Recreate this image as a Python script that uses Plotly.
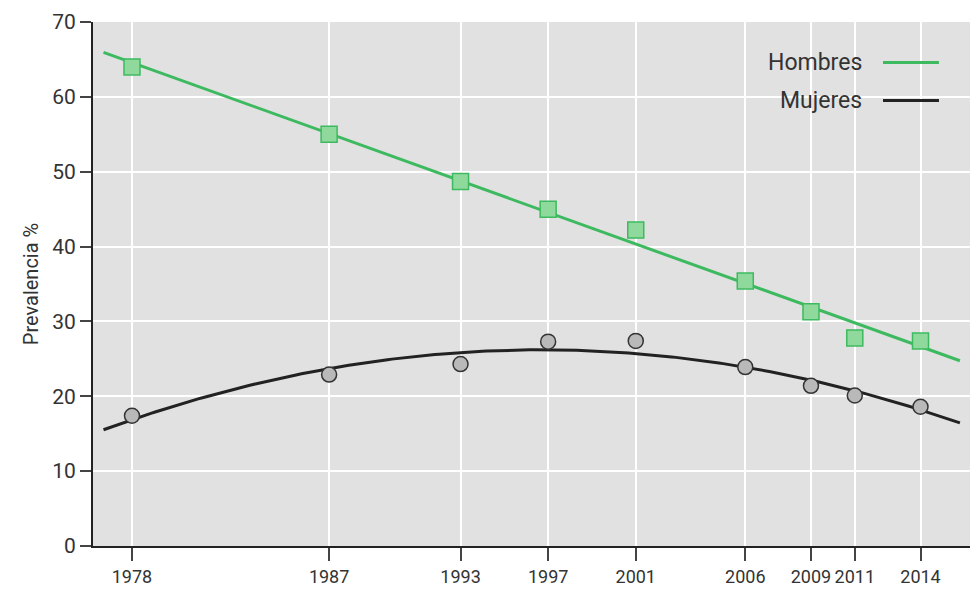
import numpy as np
import plotly.graph_objects as go

# Survey years and prevalence (%) by sex
years = [1978, 1987, 1993, 1997, 2001, 2006, 2009, 2011, 2014]
hombres = [64.0, 55.0, 48.7, 45.0, 42.2, 35.4, 31.3, 27.8, 27.4]
mujeres = [17.4, 22.9, 24.3, 27.3, 27.4, 23.9, 21.4, 20.1, 18.6]
y_ticks = [0, 10, 20, 30, 40, 50, 60, 70]

GREEN = "#3dba5f"
GREEN_FILL = "#90d99c"
DARK = "#222222"
TEXT = "#333333"
FONT = "Roboto"

# Regression trend lines: linear for men, quadratic for women
x_fit = np.linspace(1976.7, 2015.8, 200)
h_fit = np.polyval(np.polyfit(years, hombres, 1), x_fit)
m_fit = np.polyval(np.polyfit(years, mujeres, 2), x_fit)

fig = go.Figure()
fig.add_trace(go.Scatter(x=x_fit, y=h_fit, mode="lines",
                         line=dict(color=GREEN, width=3), hoverinfo="skip",
                         showlegend=False))
fig.add_trace(go.Scatter(x=x_fit, y=m_fit, mode="lines",
                         line=dict(color=DARK, width=3), hoverinfo="skip",
                         showlegend=False))
fig.add_trace(go.Scatter(x=years, y=hombres, mode="markers", name="Hombres",
                         marker=dict(symbol="square", size=16, color=GREEN_FILL,
                                     line=dict(color=GREEN, width=1.5)),
                         showlegend=False))
fig.add_trace(go.Scatter(x=years, y=mujeres, mode="markers", name="Mujeres",
                         marker=dict(symbol="circle", size=15, color="#b9b9b9",
                                     line=dict(color="#333333", width=1.5)),
                         showlegend=False))

# Legend drawn as text labels followed by line samples
legend_items = [("Hombres", GREEN, 0.9226), ("Mujeres", DARK, 0.850)]
for label, color, ypos in legend_items:
    fig.add_annotation(xref="paper", yref="paper", x=0.879, y=ypos,
                       text=label, showarrow=False, xanchor="right",
                       yanchor="middle",
                       font=dict(family=FONT, size=23, color=TEXT))
    fig.add_shape(type="line", xref="paper", yref="paper",
                  x0=0.9008, x1=0.9646, y0=ypos, y1=ypos,
                  line=dict(color=color, width=3))

fig.update_layout(
    width=970, height=598,
    margin=dict(l=93, r=0, t=22, b=52),
    paper_bgcolor="white",
    plot_bgcolor="#e1e1e1",
    font=dict(family=FONT, size=21, color=TEXT),
)
fig.update_xaxes(
    range=[1976.22, 2016.26], automargin=False,
    tickmode="array", tickvals=years, ticktext=[str(y) for y in years],
    tickangle=0,
    showgrid=True, gridcolor="white", gridwidth=1.5,
    showline=True, linecolor="#222222", linewidth=2,
    ticks="outside", ticklen=13, tickwidth=2, tickcolor="#444444",
    tickfont=dict(family=FONT, size=18, color=TEXT),
    zeroline=False,
)
fig.update_yaxes(
    range=[0, 70], automargin=False,
    tickmode="array", tickvals=y_ticks,
    showgrid=True, gridcolor="white", gridwidth=1.5,
    showline=True, linecolor="#222222", linewidth=2,
    ticks="outside", ticklen=11, tickwidth=2, tickcolor="#444444",
    tickfont=dict(family=FONT, size=21, color=TEXT),
    title=dict(text="Prevalencia %", standoff=8,
               font=dict(family=FONT, size=20, color=TEXT)),
    zeroline=False,
)

fig.write_html("out.html")
